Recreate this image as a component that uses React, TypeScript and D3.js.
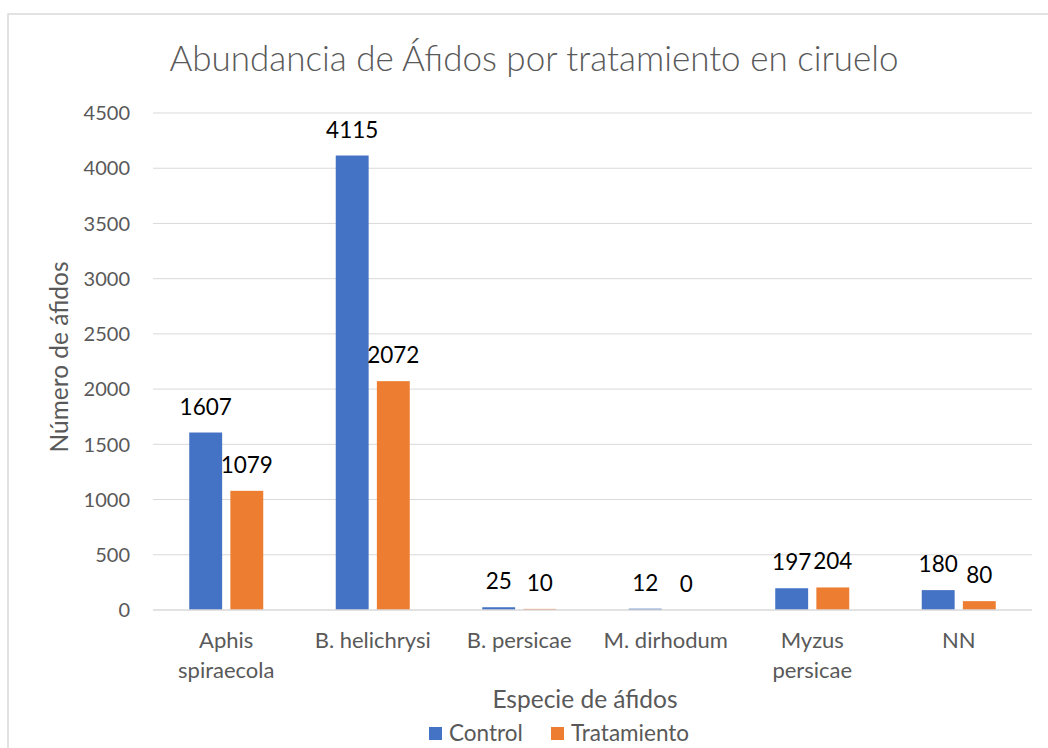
import React from "react";
import * as d3 from "d3";

const categories: string[][] = [
  ["Aphis", "spiraecola"],
  ["B. helichrysi"],
  ["B. persicae"],
  ["M. dirhodum"],
  ["Myzus", "persicae"],
  ["NN"],
];
const seriesNames = ["Control", "Tratamiento"];
const controlValues = [1607, 4115, 25, 12, 197, 180];
const tratamientoValues = [1079, 2072, 10, 0, 204, 80];
const yTicks = [0, 500, 1000, 1500, 2000, 2500, 3000, 3500, 4000, 4500];
const colors = ["#4472C4", "#ED7D31"];

const W = 1048;
const H = 748;
const plot = { left: 153, right: 1032, top: 113, bottom: 610 };
const FONT = "Lato, 'Open Sans', sans-serif";
const GRAY = "#595959";

export default function App() {
  const keys = categories.map((c) => c.join(" "));
  const x = d3.scaleBand<string>().domain(keys).range([plot.left, plot.right]).padding(0);
  const groupW = 74;
  const inner = d3.scaleBand<string>().domain(seriesNames).range([0, groupW]).paddingInner(0.2).paddingOuter(0);
  const y = d3.scaleLinear().domain([0, 4500]).range([plot.bottom, plot.top]);
  const series = [controlValues, tratamientoValues];

  return (
    <svg width={W} height={H} style={{ position: "absolute", left: 0, top: 0, background: "#fff" }} fontFamily={FONT}>
      <rect x={0} y={0} width={W} height={H} fill="#fff" />
      <rect x={8} y={14} width={W + 20} height={H + 20} fill="none" stroke="#d9d9d9" strokeWidth={1.5} />
      <text x={534} y={71} textAnchor="middle" fontSize={35} fontWeight={300} fill={GRAY}>
        Abundancia de Áfidos por tratamiento en ciruelo
      </text>
      {yTicks.map((t) => (
        <g key={t}>
          {t > 0 && (
            <line x1={plot.left} x2={plot.right} y1={y(t)} y2={y(t)} stroke="#d9d9d9" strokeWidth={1} />
          )}
          <text x={130} y={y(t)} dy="0.36em" textAnchor="end" fontSize={20} fill={GRAY}>
            {t}
          </text>
        </g>
      ))}
      {series.map((vals, si) =>
        vals.map((v, ci) => {
          const x0 = (x(keys[ci]) as number) + (x.bandwidth() - groupW) / 2 + (inner(seriesNames[si]) as number);
          return (
            <g key={`${si}-${ci}`}>
              <rect x={x0} y={y(v)} width={inner.bandwidth()} height={plot.bottom - y(v)} fill={colors[si]} />
              <text x={x0 + inner.bandwidth() / 2} y={y(v) - 18} textAnchor="middle" fontSize={22.5} fill="#000">
                {v}
              </text>
            </g>
          );
        })
      )}
      <line x1={plot.left} x2={plot.right} y1={plot.bottom} y2={plot.bottom} stroke="#d9d9d9" strokeWidth={1.5} />
      {categories.map((lines, ci) => (
        <text key={ci} textAnchor="middle" fontSize={22} fill={GRAY}>
          {lines.map((l, li) => (
            <tspan key={li} x={(x(keys[ci]) as number) + x.bandwidth() / 2} y={648 + li * 30}>
              {l}
            </tspan>
          ))}
        </text>
      ))}
      <text x={585} y={708} textAnchor="middle" fontSize={24.5} fill={GRAY}>
        Especie de áfidos
      </text>
      <text transform={`translate(68, 357) rotate(-90)`} textAnchor="middle" fontSize={24.5} fill={GRAY}>
        Número de áfidos
      </text>
      {seriesNames.map((s, si) => {
        const lx = si === 0 ? 429 : 551;
        return (
          <g key={s}>
            <rect x={lx} y={727} width={13} height={13} fill={colors[si]} />
            <text x={lx + 20} y={741} fontSize={22.5} fill={GRAY}>
              {s}
            </text>
          </g>
        );
      })}
    </svg>
  );
}
